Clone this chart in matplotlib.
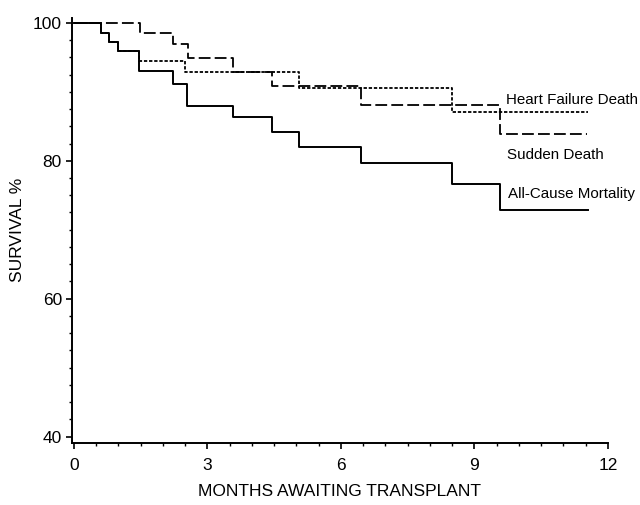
import matplotlib
matplotlib.use("Agg")
import matplotlib.pyplot as plt
from matplotlib.ticker import MultipleLocator

# ---- data ----
all_cause_t = [0, 0.60, 0.79, 1.00, 1.47, 2.22, 2.53, 3.57, 4.45, 5.06, 6.46, 8.49, 9.57, 11.56]
all_cause_v = [100, 98.5, 97.2, 95.9, 93.0, 91.1, 88.0, 86.3, 84.1, 82.0, 79.7, 76.6, 72.9, 72.9]

hf_t = [0, 0.60, 0.79, 1.00, 1.47, 2.50, 5.06, 8.49, 11.56]
hf_v = [100, 98.5, 97.2, 95.9, 94.4, 92.8, 90.6, 87.0, 87.0]

sd_t = [0, 1.48, 2.23, 2.57, 3.57, 4.44, 6.46, 9.57, 11.52]
sd_v = [100, 98.5, 96.9, 94.9, 92.9, 90.8, 88.1, 83.9, 83.9]

x_ticks = [0, 3, 6, 9, 12]
y_ticks = [40, 60, 80, 100]
curve_labels = ["Heart Failure Death", "Sudden Death", "All-Cause Mortality"]

plt.rcParams["font.family"] = ["Liberation Sans", "DejaVu Sans"]
plt.rcParams["lines.scale_dashes"] = False
FS = 12.5

fig = plt.figure(figsize=(6.4, 5.05), dpi=100)
ax = fig.add_axes([0.112, 0.1234, 0.838, 0.841])

ax.step(all_cause_t, all_cause_v, where="post", color="black", lw=1.4)
ax.step(hf_t, hf_v, where="post", color="black", lw=1.3, dashes=(2.4, 1.3))
ax.step(sd_t, sd_v, where="post", color="black", lw=1.3, dashes=(8.5, 3.0))

ax.set_xlim(-0.05, 12)
ax.set_ylim(39.13, 100.7)
ax.set_xticks(x_ticks)
ax.set_yticks(y_ticks)
ax.xaxis.set_minor_locator(MultipleLocator(0.5))
ax.yaxis.set_minor_locator(MultipleLocator(2.5))
ax.tick_params(which="major", direction="out", length=4, width=1.2, labelsize=FS, pad=3)
ax.tick_params(axis="x", which="major", pad=7)
ax.tick_params(which="minor", direction="out", length=2.2, width=1.0)
for s in ["top", "right"]:
    ax.spines[s].set_visible(False)
for s in ["left", "bottom"]:
    ax.spines[s].set_linewidth(1.4)

ax.set_xlabel("MONTHS AWAITING TRANSPLANT", fontsize=FS, labelpad=8)
ax.set_ylabel("SURVIVAL %", fontsize=FS, labelpad=6)

label_pos = [(9.70, 88.8), (9.72, 80.9), (9.76, 75.2)]
for txt, (x, y) in zip(curve_labels, label_pos):
    ax.text(x, y, txt, fontsize=10.9, ha="left", va="center", clip_on=False)

fig.savefig("out.png", dpi=100)
